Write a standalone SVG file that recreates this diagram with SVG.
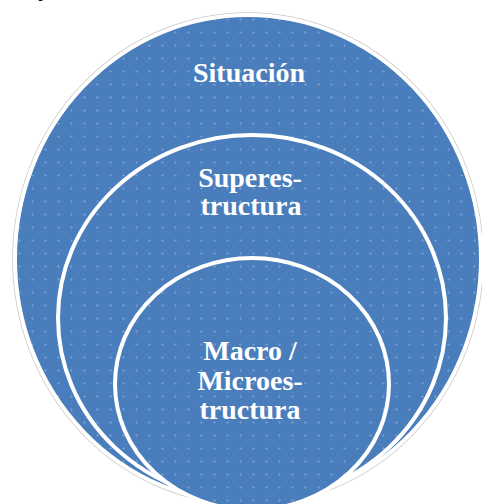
<svg xmlns="http://www.w3.org/2000/svg" width="482" height="504" viewBox="0 0 482 504">
  <defs>
    <pattern id="dots" width="13" height="13" patternUnits="userSpaceOnUse">
      <rect width="13" height="13" fill="#4a7dbc"/>
      <rect x="5" y="6" width="3" height="1" fill="#6c98cc"/>
      <rect x="6" y="5" width="1" height="3" fill="#6c98cc"/>
    </pattern>
  </defs>
  <style>
    .ring { fill: url(#dots); stroke: #ffffff; stroke-width: 4; }
    .lbl { font-family: "Liberation Serif", "DejaVu Serif", serif; font-weight: bold; font-size: 28px; fill: #ffffff; text-anchor: middle; }
  </style>
  <rect width="482" height="504" fill="#ffffff"/>
  <text x="38" y="-4" font-family="Liberation Serif, serif" font-size="20" fill="#000000">p</text>
  <g id="situacion">
    <ellipse cx="248" cy="259" rx="235" ry="246" fill="none" stroke="#c8c8c8" stroke-width="1.5"/>
    <ellipse class="ring" cx="248" cy="259" rx="233" ry="244" stroke-width="3"/>
    <text class="lbl" x="249" y="82">Situación</text>
  </g>
  <g id="superestructura">
    <ellipse class="ring" cx="252" cy="318" rx="194" ry="183"/>
    <text class="lbl" x="250" y="187">Superes-</text>
    <text class="lbl" x="251" y="215">tructura</text>
  </g>
  <g id="macro-microestructura">
    <ellipse class="ring" cx="252" cy="384" rx="137" ry="126"/>
    <text class="lbl" x="250" y="360">Macro /</text>
    <text class="lbl" x="250" y="390">Microes-</text>
    <text class="lbl" x="250" y="419">tructura</text>
  </g>
  <g id="connectors"/>
</svg>
